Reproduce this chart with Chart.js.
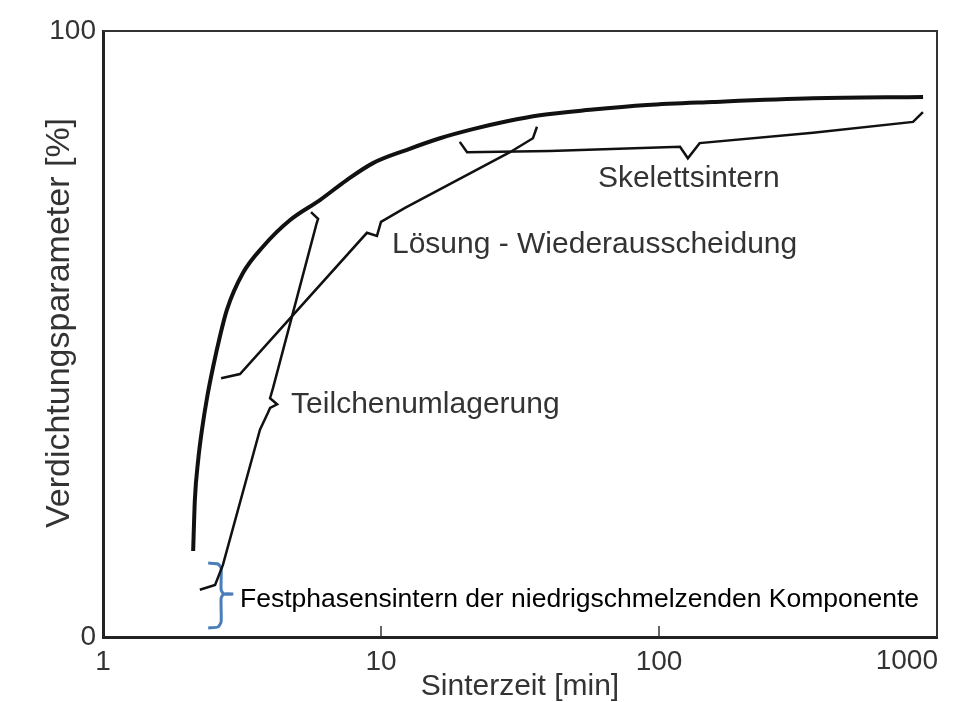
<!DOCTYPE html>
<html>
<head>
<meta charset="utf-8">
<script src="https://cdn.jsdelivr.net/npm/chart.js@4.4.0/dist/chart.umd.min.js"></script>
<style>
  body { margin: 0; background: #fff; }
  #wrap { width: 963px; height: 702px; }
</style>
</head>
<body>
<div id="wrap"><canvas id="sinterChart" width="963" height="702"></canvas></div>
<script>
// time in minutes (log axis), densification parameter in %
var mainTime = [2.11, 2.14, 2.2, 2.27, 2.37, 2.49, 2.64, 2.79, 3.19, 3.76, 4.71, 6.03, 7.53, 9.36, 12.4, 16.3, 21.4, 28.4, 37.3, 56.5, 90.5, 156, 358, 891];
var mainDens = [14.2, 22.6, 29.2, 34.2, 39.6, 44.6, 49.8, 54.0, 60.1, 64.4, 68.8, 72.1, 75.4, 78.2, 80.4, 82.3, 83.8, 85.1, 86.1, 87.0, 87.8, 88.3, 88.9, 89.1];

var teilTime = [2.23, 2.53, 2.70, 3.67, 3.92, 3.99, 4.23, 3.99, 4.09, 5.87, 5.94, 5.60];
var teilDens = [7.8, 8.6, 11.9, 34.2, 37.0, 37.8, 38.4, 39.4, 41.1, 68.3, 69.0, 70.1];

var loesTime = [2.66, 3.11, 8.9, 9.67, 10.0, 12.2, 29.1, 35.2, 36.4];
var loesDens = [42.7, 43.4, 66.7, 66.2, 68.5, 70.8, 80.0, 82.3, 84.2];

var skelTime = [19.2, 20.4, 40.5, 119, 127, 140, 358, 820, 890];
var skelDens = [81.7, 80.0, 80.2, 80.9, 79.0, 81.5, 83.2, 85.0, 86.6];

var braceTime = [2.39, 2.59, 2.66, 2.66, 2.72, 2.94, 2.72, 2.66, 2.66, 2.59, 2.39];
var braceDens = [12.2, 12.05, 11.4, 7.8, 7.1, 7.1, 7.1, 6.4, 2.5, 1.65, 1.5];

var xTicks = [1, 10, 100, 1000];
var yTicks = [0, 100];
var innerTicks = [10, 100];

var labelText = ["Skelettsintern", "Lösung - Wiederausscheidung", "Teilchenumlagerung", "Festphasensintern der niedrigschmelzenden Komponente"];
var labelTime = [60.3, 10.95, 4.75, 3.11];
var labelDens = [75.7, 64.7, 38.3, 6.1];

var yTitle = 'Verdichtungsparameter [%]';
var xTitle = 'Sinterzeit [min]';
var font = '"Liberation Sans", Arial, sans-serif';

function pts(xs, ys) {
  return xs.map(function (x, i) { return { x: x, y: ys[i] }; });
}

var frameAndLabels = {
  id: 'frameAndLabels',
  afterDraw: function (chart) {
    var ctx = chart.ctx;
    var a = chart.chartArea;
    var xs = chart.scales.x, ys = chart.scales.y;
    ctx.save();
    // top + right frame
    ctx.strokeStyle = '#333';
    ctx.lineWidth = 2;
    ctx.beginPath();
    ctx.moveTo(a.left, a.top);
    ctx.lineTo(a.right, a.top);
    ctx.lineTo(a.right, a.bottom);
    ctx.stroke();
    // small inward ticks
    ctx.lineWidth = 1.5;
    innerTicks.forEach(function (v) {
      var px = xs.getPixelForValue(v);
      ctx.beginPath();
      ctx.moveTo(px, a.bottom);
      ctx.lineTo(px, a.bottom - 11);
      ctx.stroke();
    });
    // last x tick label sits inside the frame edge
    ctx.fillStyle = '#333';
    ctx.font = '28px ' + font;
    ctx.textAlign = 'right';
    ctx.textBaseline = 'middle';
    var lastTick = xTicks[xTicks.length - 1];
    ctx.fillText(String(lastTick), xs.getPixelForValue(lastTick) + 1, a.bottom + 24);
    // y axis title
    ctx.save();
    ctx.translate(60, (a.top + a.bottom) / 2 - 11);
    ctx.rotate(-Math.PI / 2);
    ctx.textAlign = 'center';
    ctx.font = '34px ' + font;
    ctx.fillText(yTitle, 0, 0);
    ctx.restore();
    // curve labels
    ctx.textAlign = 'left';
    ctx.textBaseline = 'middle';
    labelText.forEach(function (t, i) {
      var last = i === labelText.length - 1;
      ctx.font = (last ? '26.5px ' : '30px ') + font;
      ctx.fillStyle = last ? '#000' : '#333';
      ctx.fillText(t, xs.getPixelForValue(labelTime[i]), ys.getPixelForValue(labelDens[i]));
    });
    ctx.restore();
  }
};

var ctx = document.getElementById('sinterChart').getContext('2d');
var sinterChart = new Chart(ctx, {
  type: 'line',
  data: {
    datasets: [
      { data: pts(mainTime, mainDens), borderColor: '#111', borderWidth: 4, cubicInterpolationMode: 'monotone' },
      { data: pts(teilTime, teilDens), borderColor: '#111', borderWidth: 2.5, tension: 0 },
      { data: pts(loesTime, loesDens), borderColor: '#111', borderWidth: 2.5, tension: 0 },
      { data: pts(skelTime, skelDens), borderColor: '#111', borderWidth: 2.5, tension: 0 },
      { data: pts(braceTime, braceDens), borderColor: '#4a7ebb', borderWidth: 3, tension: 0.2 }
    ]
  },
  options: {
    responsive: false,
    animation: false,
    devicePixelRatio: 1,
    layout: { padding: { left: 0, right: 26, top: 31, bottom: 0 } },
    elements: { point: { radius: 0, hoverRadius: 0 } },
    plugins: { legend: { display: false }, tooltip: { enabled: false } },
    scales: {
      x: {
        type: 'logarithmic',
        min: 1, max: 1000,
        grid: { display: false, drawTicks: false },
        border: { display: true, color: '#222', width: 3 },
        afterBuildTicks: function (s) { s.ticks = xTicks.map(function (v) { return { value: v }; }); },
        afterFit: function (s) { s.height = 65; s.paddingLeft = 0; s.paddingRight = 0; },
        ticks: {
          autoSkip: false, maxRotation: 0, padding: 8, color: '#333',
          font: { family: font, size: 28 },
          callback: function (v) { return v === xTicks[xTicks.length - 1] ? '' : String(v); }
        },
        title: {
          display: true, text: xTitle, color: '#333',
          font: { family: font, size: 30, lineHeight: 1 },
          padding: { top: 0, bottom: 0 }
        }
      },
      y: {
        min: 0, max: 100,
        grid: { display: false, drawTicks: false },
        border: { display: true, color: '#222', width: 3 },
        afterBuildTicks: function (s) { s.ticks = yTicks.map(function (v) { return { value: v }; }); },
        afterFit: function (s) { s.width = 103; },
        ticks: {
          padding: 7, color: '#333',
          font: { family: font, size: 28 }
        },
        title: { display: false }
      }
    }
  },
  plugins: [frameAndLabels]
});
</script>
</body>
</html>
